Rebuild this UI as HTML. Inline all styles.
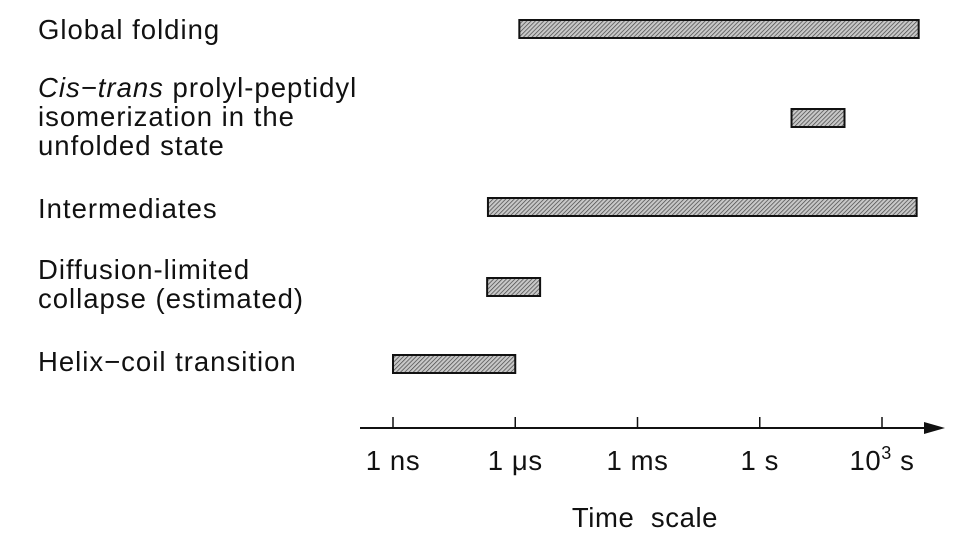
<!DOCTYPE html>
<html><head><meta charset="utf-8"><style>
body{margin:0;background:#fff;}
svg text{font-family:"Liberation Sans",sans-serif;fill:#111;}
</style></head><body>
<svg width="969" height="535" viewBox="0 0 969 535">
<defs>
<pattern id="hatch" width="3" height="3" patternUnits="userSpaceOnUse" patternTransform="rotate(45)">
<rect width="3" height="3" fill="#c8c8c8"/><line x1="0" y1="0" x2="0" y2="3" stroke="#444" stroke-width="1.4"/>
</pattern>
</defs>
<g id="labels" font-size="27.5" letter-spacing="1">
<text x="38" y="39">Global folding</text>
<text x="38" y="97"><tspan font-style="italic">Cis−trans</tspan> prolyl-peptidyl</text>
<text x="38" y="126">isomerization in the</text>
<text x="38" y="155">unfolded state</text>
<text x="38" y="218">Intermediates</text>
<text x="38" y="279">Diffusion-limited</text>
<text x="38" y="308">collapse (estimated)</text>
<text x="38" y="371">Helix−coil transition</text>
</g>
<g id="bars"></g>
<g id="axis">
<line x1="360" y1="428" x2="930" y2="428" stroke="#111" stroke-width="2"/>
<polygon points="945,428 924,422 924,434" fill="#111"/>
</g>
<text x="645" y="527" font-size="27.5" letter-spacing="0.6" text-anchor="middle" xml:space="preserve">Time  scale</text>
</svg>
<script>
const processes = ["Global folding","Cis-trans isomerization","Intermediates","Diffusion-limited collapse","Helix-coil transition"];
const startLog = [-5.9, 0.78, -6.67, -6.69, -9];
const endLog = [3.9, 2.08, 3.85, -5.39, -6];
const barTops = [20, 109, 198, 278, 355];
const tickValues = [-9, -6, -3, 0, 3];
const tickLabels = ["1 ns", "1 \u03BCs", "1 ms", "1 s", "10|3| s"];
const NS="http://www.w3.org/2000/svg";
function xScale(v){ return 393 + (v + 9) * (489/12); }
const bars = document.getElementById('bars');
processes.forEach((p,i)=>{
  const r=document.createElementNS(NS,'rect');
  r.setAttribute('x', xScale(startLog[i]));
  r.setAttribute('y', barTops[i]);
  r.setAttribute('width', xScale(endLog[i]) - xScale(startLog[i]));
  r.setAttribute('height', 18);
  r.setAttribute('fill','url(#hatch)');
  r.setAttribute('stroke','#111');
  r.setAttribute('stroke-width','2');
  
  
  bars.appendChild(r);
});
const axis=document.getElementById('axis');
tickValues.forEach((v,i)=>{
  const x=xScale(v);
  const l=document.createElementNS(NS,'line');
  l.setAttribute('x1',x);l.setAttribute('x2',x);l.setAttribute('y1',417);l.setAttribute('y2',428);
  l.setAttribute('stroke','#111');l.setAttribute('stroke-width','1.5');
  
  
  axis.appendChild(l);
  const t=document.createElementNS(NS,'text');
  t.setAttribute('x',x);t.setAttribute('y',470);t.setAttribute('font-size','27.5');t.setAttribute('text-anchor','middle');t.setAttribute('letter-spacing','0.6');
  const parts=tickLabels[i].split('|');
  if(parts.length===3){
    t.appendChild(document.createTextNode(parts[0]));
    const s=document.createElementNS(NS,'tspan');s.setAttribute('dy','-11');s.setAttribute('font-size','18');s.textContent=parts[1];t.appendChild(s);
    const s2=document.createElementNS(NS,'tspan');s2.setAttribute('dy','11');s2.textContent=parts[2];t.appendChild(s2);
  } else t.textContent=tickLabels[i];
  
  
  axis.appendChild(t);
});
</script>
</body></html>
